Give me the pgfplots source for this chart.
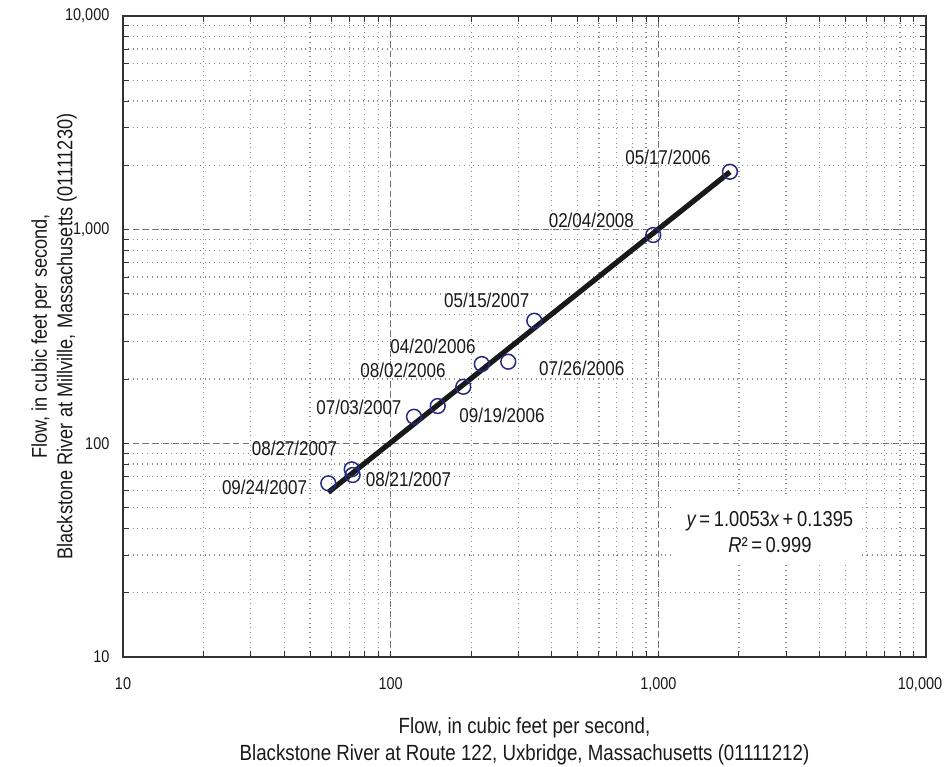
\documentclass[border=0pt]{standalone}
\usepackage{fontspec}
\setmainfont{Liberation Sans}[FakeStretch=0.85]
\setsansfont{Liberation Sans}[FakeStretch=0.85]
\usepackage{pgfplots}
\pgfplotsset{compat=1.18}
\definecolor{markblue}{RGB}{38,42,128}
\begin{document}
\begin{tikzpicture}
\begin{axis}[
  name=ax,
  scale only axis,
  width=401.5pt, height=320.5pt,
  xmode=log, ymode=log,
  xmin=10, xmax=10000, ymin=10, ymax=10000,
  xtick={10,100,1000,10000}, xticklabels={10,100,{1,000},{\hspace*{-6pt}10,000}},
  ytick={10,100,1000,10000}, yticklabels={10,100,{1,000},{10,000}},
  /pgf/number format/assume math mode=true,
  tick label style={font=\fontsize{8.5}{9}\selectfont, text=black!90},
  xticklabel style={yshift=-6.8pt},
  yticklabel style={xshift=-3.3pt},
  major tick length=3pt, minor tick length=3pt,
  tick style={black!80, line width=0.5pt},
  axis line style={black!80, line width=0.9pt},
  grid=both,
  major grid style={dash pattern=on 3pt off 2pt, black!55, line width=0.5pt},
  minor grid style={dotted, black!45, line width=0.6pt},
  xlabel={Flow, in cubic feet per second,\\Blackstone River at Route 122, Uxbridge, Massachusetts (01111212)},
  ylabel={Flow, in cubic feet per second,\\Blackstone River at Millville, Massachusetts (01111230)},
  label style={font=\fontsize{11}{13.5}\selectfont, align=center, text=black!90},
  xlabel style={at={(axis description cs:0.5,-0.1318)}, anchor=center},
  ylabel style={at={(axis description cs:-0.0859,0.5)}, anchor=center, font=\fontsize{10.7}{12.8}\selectfont},
  clip=false,
]
\fill[white] (axis cs:1154,28.1) rectangle (axis cs:5571,57.3);
\node[font=\fontsize{10.8}{13}\selectfont, align=center, text=black!90] at (axis cs:2612,38.3)
  {\itshape y\upshape\,=\,1.0053\itshape x\upshape\,+\,0.1395\\\itshape R\upshape²\,=\,0.999};
\addplot[only marks, mark=o, mark size=3.7pt, color=markblue, mark options={line width=0.75pt}] coordinates {
(1852,1867) (957,944) (344,375) (275,241) (219,235) (186.8,184) (149.9,149.5)
(122.2,133.2) (71.5,75.6) (72.1,71.1) (58.5,65.0)
};
\addplot[black!90, line width=2.6pt] coordinates {(58.5,59.0) (1852,1862)};
\begin{scope}[every node/.style={font=\fontsize{10}{12}\selectfont, text=black!90}]
\node at (axis cs:1086,2188) {05/17/2006};
\node at (axis cs:562,1102) {02/04/2008};
\node at (axis cs:228.5,468.8) {05/15/2007};
\node at (axis cs:143.9,285.4) {04/20/2006};
\node at (axis cs:111.2,220.3) {08/02/2006};
\node at (axis cs:517.6,225.2) {07/26/2006};
\node at (axis cs:260.6,135.7) {09/19/2006};
\node at (axis cs:76.1,147.9) {07/03/2007};
\node at (axis cs:43.7,95.1) {08/27/2007};
\node at (axis cs:116.6,68.1) {08/21/2007};
\node at (axis cs:33.8,62.5) {09/24/2007};
\end{scope}
\end{axis}
\pgfresetboundingbox
\useasboundingbox ([xshift=-61.5pt,yshift=-54.5pt]ax.south west) rectangle ([xshift=10.5pt,yshift=8pt]ax.north east);
\end{tikzpicture}
\end{document}
